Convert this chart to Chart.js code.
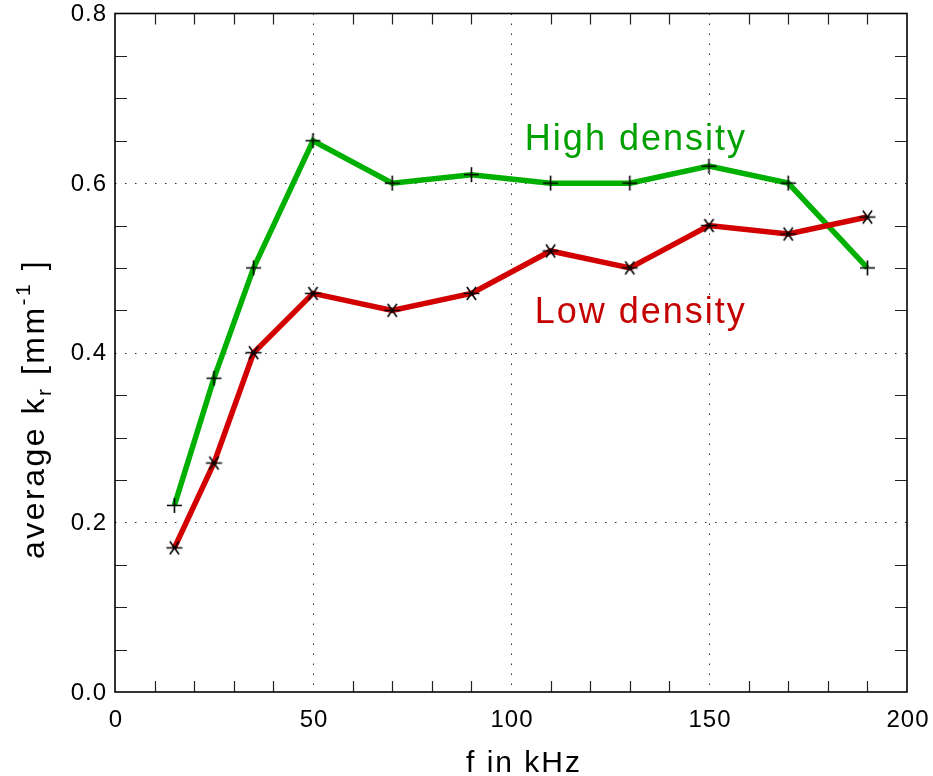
<!DOCTYPE html>
<html>
<head>
<meta charset="utf-8">
<script src="https://cdn.jsdelivr.net/npm/chart.js@4.4.0/dist/chart.umd.min.js"></script>
<style>
  body { margin: 0; background: #fff; }
  canvas { display: block; }
</style>
</head>
<body>
<canvas id="kChart" width="933" height="776"></canvas>
<script>
    // 数据
    const freq = [15, 25, 35, 50, 70, 90, 110, 130, 150, 170, 190];
    const highDensity = [0.22, 0.37, 0.50, 0.65, 0.60, 0.61, 0.60, 0.60, 0.62, 0.60, 0.50];
    const lowDensity = [0.17, 0.27, 0.40, 0.47, 0.45, 0.47, 0.52, 0.50, 0.55, 0.54, 0.56];
    const xTicks = [0, 50, 100, 150, 200];
    const yTicks = [0.0, 0.2, 0.4, 0.6, 0.8];

    const FONT = '"Liberation Sans", Arial, Helvetica, sans-serif';
    const GREEN = '#00b000';
    const RED = '#d20000';

    // marker canvases
    function plusMarker() {
        const c = document.createElement('canvas');
        c.width = 17; c.height = 17;
        const g = c.getContext('2d');
        g.strokeStyle = '#000';
        g.lineWidth = 1.6;
        g.beginPath();
        g.moveTo(1, 8.5); g.lineTo(16, 8.5);
        g.moveTo(8.5, 1); g.lineTo(8.5, 16);
        g.stroke();
        return c;
    }
    function starMarker() {
        const c = document.createElement('canvas');
        c.width = 19; c.height = 19;
        const g = c.getContext('2d');
        g.strokeStyle = '#000';
        g.lineWidth = 1.6;
        g.beginPath();
        const r = 8;
        [0, 55, 125].forEach(a => {
            const rad = a * Math.PI / 180;
            g.moveTo(9.5 - r * Math.cos(rad), 9.5 - r * Math.sin(rad));
            g.lineTo(9.5 + r * Math.cos(rad), 9.5 + r * Math.sin(rad));
        });
        g.stroke();
        return c;
    }

    const toXY = (ys) => freq.map((x, i) => ({ x: x, y: ys[i] }));

    // 坐标框、刻度、网格、文字
    const framePlugin = {
        id: 'frame',
        beforeDatasetsDraw(chart) {
            const { ctx, chartArea: a, scales: { x, y } } = chart;
            ctx.save();
            // dotted grid at major ticks
            ctx.strokeStyle = '#333';
            ctx.lineWidth = 1;
            ctx.setLineDash([1.5, 8.5]);
            ctx.beginPath();
            xTicks.slice(1, -1).forEach(v => {
                const px = Math.round(x.getPixelForValue(v)) + 0.5;
                ctx.moveTo(px, a.top); ctx.lineTo(px, a.bottom);
            });
            yTicks.slice(1, -1).forEach(v => {
                const py = Math.round(y.getPixelForValue(v)) + 0.5;
                ctx.moveTo(a.left, py); ctx.lineTo(a.right, py);
            });
            ctx.stroke();
            ctx.setLineDash([]);

            // minor ticks, inside
            ctx.strokeStyle = '#222';
            ctx.lineWidth = 1.2;
            ctx.beginPath();
            for (let v = 10; v < 200; v += 10) {
                if (v % 50 === 0) continue;
                const px = Math.round(x.getPixelForValue(v)) + 0.5;
                ctx.moveTo(px, a.bottom); ctx.lineTo(px, a.bottom - 11);
                ctx.moveTo(px, a.top); ctx.lineTo(px, a.top + 11);
            }
            for (let k = 1; k < 16; k++) {
                if (k % 4 === 0) continue;
                const py = Math.round(y.getPixelForValue(k * 0.05)) + 0.5;
                ctx.moveTo(a.left, py); ctx.lineTo(a.left + 12, py);
                ctx.moveTo(a.right, py); ctx.lineTo(a.right - 12, py);
            }
            ctx.stroke();

            // frame
            ctx.strokeStyle = '#000';
            ctx.lineWidth = 1.6;
            ctx.strokeRect(a.left, a.top, a.right - a.left, a.bottom - a.top);

            // tick labels
            ctx.fillStyle = '#000';
            ctx.font = '24px ' + FONT;
            ctx.letterSpacing = '1px';
            ctx.textAlign = 'right';
            ctx.textBaseline = 'middle';
            yTicks.forEach(v => ctx.fillText(v.toFixed(1), a.left - 8, y.getPixelForValue(v) + 1));
            ctx.textAlign = 'center';
            ctx.textBaseline = 'top';
            xTicks.forEach(v => ctx.fillText(String(v), x.getPixelForValue(v) + 1, a.bottom + 16));
            ctx.restore();
        },
        afterDraw(chart) {
            const { ctx, scales: { x, y } } = chart;
            ctx.save();
            ctx.letterSpacing = '2px';
            ctx.textBaseline = 'alphabetic';

            // series labels
            ctx.font = '36px ' + FONT;
            ctx.fillStyle = '#00a000';
            ctx.textAlign = 'left';
            ctx.fillText('High density', x.getPixelForValue(103.5), y.getPixelForValue(0.6395));
            ctx.fillStyle = '#c40000';
            ctx.fillText('Low density', x.getPixelForValue(106), y.getPixelForValue(0.4354));

            // x title
            ctx.fillStyle = '#000';
            ctx.font = '30px ' + FONT;
            ctx.textAlign = 'center';
            ctx.fillText('f in kHz', 524, 772);

            // y title with sub/superscript
            ctx.letterSpacing = '2.5px';
            const parts = [
                { t: 'average k', s: 32, dy: 0 },
                { t: 'r', s: 21, dy: 7 },
                { t: ' [mm', s: 32, dy: 0 },
                { t: '-1', s: 21, dy: -14 },
                { t: ' ]', s: 32, dy: 0 }
            ];
            let total = 0;
            parts.forEach(p => {
                ctx.font = p.s + 'px ' + FONT;
                p.w = ctx.measureText(p.t).width;
                total += p.w;
            });
            ctx.translate(44, 409);
            ctx.rotate(-Math.PI / 2);
            ctx.textAlign = 'left';
            let cx = -total / 2;
            parts.forEach(p => {
                ctx.font = p.s + 'px ' + FONT;
                ctx.fillText(p.t, cx, p.dy);
                cx += p.w;
            });
            ctx.restore();
        }
    };

    const chart = new Chart(document.getElementById('kChart').getContext('2d'), {
        type: 'line',
        data: {
            datasets: [
                {
                    label: 'Low density',
                    data: toXY(lowDensity),
                    borderColor: RED,
                    borderWidth: 5.5,
                    pointStyle: starMarker(),
                    pointRadius: 8,
                    tension: 0
                },
                {
                    label: 'High density',
                    data: toXY(highDensity),
                    borderColor: GREEN,
                    borderWidth: 5.5,
                    pointStyle: plusMarker(),
                    pointRadius: 8,
                    tension: 0
                }
            ]
        },
        options: {
            responsive: false,
            animation: false,
            clip: false,
            layout: { padding: { top: 13, right: 26, left: 0, bottom: 0 } },
            plugins: {
                legend: { display: false },
                tooltip: { enabled: false }
            },
            scales: {
                x: {
                    type: 'linear',
                    min: 0, max: 200,
                    border: { display: false },
                    grid: { display: false, drawTicks: false },
                    afterBuildTicks: (s) => { s.ticks = xTicks.map(v => ({ value: v })); },
                    ticks: { display: false },
                    afterFit: (s) => { s.height = 84; }
                },
                y: {
                    min: 0, max: 0.8,
                    border: { display: false },
                    grid: { display: false, drawTicks: false },
                    afterBuildTicks: (s) => { s.ticks = yTicks.map(v => ({ value: v })); },
                    ticks: { display: false },
                    afterFit: (s) => { s.width = 115; }
                }
            }
        },
        plugins: [framePlugin]
    });
</script>
</body>
</html>
